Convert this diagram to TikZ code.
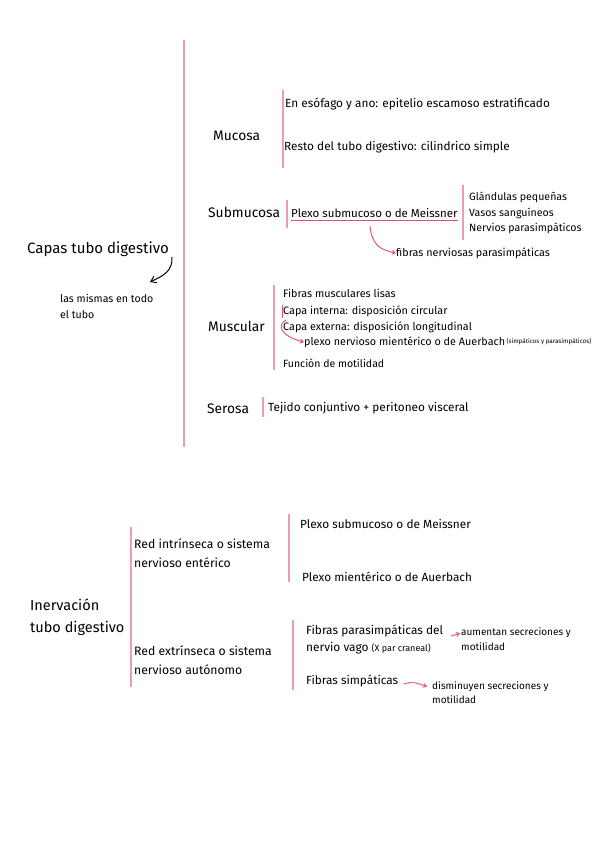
\documentclass[tikz,border=0pt]{standalone}
\usepackage{fontspec}
\setmainfont{Fira Sans}
\usetikzlibrary{arrows.meta}
\definecolor{pinkline}{RGB}{232,160,174}
\definecolor{pinkarrow}{RGB}{226,78,108}
\begin{document}
\begin{tikzpicture}[x=1pt,y=-1pt,
  big/.style={font=\fontsize{15}{17}\selectfont, anchor=west, inner sep=0pt},
  mid/.style={font=\fontsize{13.8}{16}\selectfont, anchor=west, inner sep=0pt},
  sml/.style={font=\fontsize{10.8}{13}\selectfont, anchor=west, inner sep=0pt},
  smlb/.style={font=\fontsize{11.8}{14}\selectfont, anchor=west, inner sep=0pt},
  tny/.style={font=\fontsize{10.6}{12}\selectfont, anchor=west, inner sep=0pt},
  hand/.style={font=\fontsize{6.3}{7}\selectfont, anchor=west, inner sep=0pt},
  bar/.style={draw=pinkline, line width=1.6pt},
  parrow/.style={draw=pinkarrow, line width=0.9pt, -{Straight Barb[length=3pt,width=4pt]}},
  barrow/.style={draw=black, line width=1pt, -{Straight Barb[length=5pt,width=7pt]}}]
\useasboundingbox[fill=white] (0,0) rectangle (599,848);

% ---------- Capas tubo digestivo ----------
\coordinate (mainT) at (184,40);
\coordinate (mainB) at (184,447);
\draw[bar] (mainT) -- (mainB);

\node[big] (capas) at (27,249) {Capas tubo digestivo};
\node[tny] (mismas1) at (60,298) {las mismas en todo};
\node[tny] (mismas2) at (60,315) {el tubo};
\coordinate (ca1) at (172,257);
\coordinate (ca2) at (150,282);
\draw[barrow] (ca1) .. controls (173,271) and (163,276) .. (ca2);

% Mucosa
\node[mid] (mucosa) at (213,136) {Mucosa};
\coordinate (mucT) at (283,90);
\coordinate (mucB) at (283,168);
\draw[bar] (mucT) -- (mucB);
\node[smlb] (muc1) at (285,104) {En esófago y ano: epitelio escamoso estratificado};
\node[smlb] (muc2) at (284,147) {Resto del tubo digestivo: cilindrico simple};

% Submucosa
\node[mid] (submucosa) at (208,212) {Submucosa};
\coordinate (subT) at (287,200);
\coordinate (subB) at (287,228);
\draw[bar] (subT) -- (subB);
\node[sml, font=\fontsize{11.5}{14}\selectfont] (meissner) at (291,213) {Plexo submucoso o de Meissner};
\draw[draw=pinkarrow, line width=0.9pt] ([yshift=-3pt]meissner.south west) -- ([yshift=-3pt]meissner.south east);
\coordinate (sub2T) at (463,185);
\coordinate (sub2B) at (463,240);
\draw[bar] (sub2T) -- (sub2B);
\node[sml, font=\fontsize{10.6}{13}\selectfont] (gland) at (469,197) {Glándulas pequeñas};
\node[sml, font=\fontsize{10.6}{13}\selectfont] (vasos) at (469,213) {Vasos sanguíneos};
\node[sml, font=\fontsize{10.6}{13}\selectfont] (nervios) at (469,228) {Nervios parasimpáticos};
\node[sml] (fibnerv) at (396,253) {fibras nerviosas parasimpáticas};
\coordinate (ma1) at (370,226);
\draw[parrow] (ma1) .. controls (372,245) and (380,250) .. (fibnerv.west);

% Muscular
\node[mid] (muscular) at (208,326) {Muscular};
\coordinate (musT) at (274,285);
\coordinate (musB) at (274,370);
\draw[bar] (musT) -- (musB);
\node[sml] (fibmus) at (283,293) {Fibras musculares lisas};
\node[sml] (capint) at (283,311) {Capa interna: disposición circular};
\node[sml] (capext) at (283,327) {Capa externa: disposición longitudinal};
\node[sml] (auer) at (304,342) {plexo nervioso mientérico o de Auerbach};
\node[hand, anchor=west] (simpa) at ([xshift=1pt]auer.east) {(simpáticos y parasimpáticos)};
\node[sml, font=\fontsize{10.5}{13}\selectfont] (funcion) at (283,363) {Función de motilidad};
\coordinate (ciT) at (282,305);
\coordinate (ciB) at (282,318);
\draw[draw=pinkarrow, line width=0.8pt] (ciT) -- (ciB);
\coordinate (ce1) at (286,320);
\draw[parrow] (ce1) .. controls (277,325) and (280,336) .. (auer.west);

% Serosa
\node[mid] (serosa) at (207,409) {Serosa};
\coordinate (serT) at (263,397);
\coordinate (serB) at (263,417);
\draw[bar] (serT) -- (serB);
\node[smlb] (tejido) at (268,408) {Tejido conjuntivo + peritoneo visceral};

% ---------- Inervación ----------
\node[big, align=left, font=\fontsize{14.5}{22}\selectfont] (inerv) at (30,617) {Inervación\\tubo digestivo};
\coordinate (inT) at (131,527);
\coordinate (inB) at (131,687);
\draw[bar] (inT) -- (inB);

\node[sml, align=left, font=\fontsize{12.2}{19}\selectfont] (intr) at (134,553) {Red intrínseca o sistema\\nervioso entérico};
\coordinate (inrT) at (289,514);
\coordinate (inrB) at (289,582);
\draw[bar] (inrT) -- (inrB);
\node[smlb] (pmeiss) at (300,524) {Plexo submucoso o de Meissner};
\node[smlb] (pauer) at (302,577) {Plexo mientérico o de Auerbach};

\node[sml, align=left, font=\fontsize{12.2}{19}\selectfont] (extr) at (134,660) {Red extrínseca o sistema\\nervioso autónomo};
\coordinate (exT) at (293,620);
\coordinate (exB) at (293,690);
\draw[bar] (exT) -- (exB);
\node[sml, align=left, font=\fontsize{11.9}{17}\selectfont] (fpara) at (306,639) {Fibras parasimpáticas del\\nervio vago {\fontsize{9}{10}\selectfont(X par craneal)}};
\node[tny, align=left, font=\fontsize{10}{15}\selectfont] (aument) at (461,639) {aumentan secreciones y\\motilidad};
\coordinate (pa1) at (451,636);
\draw[parrow] (pa1) -- ([xshift=-1pt,yshift=-6pt]aument.north west);
\node[smlb] (fsimp) at (306,681) {Fibras simpáticas};
\node[tny, align=left, font=\fontsize{10}{14}\selectfont] (dismin) at (432,693) {disminuyen secreciones y\\motilidad};
\coordinate (sa1) at (404,684);
\draw[parrow] (sa1) .. controls (412,681) and (418,683) .. ([xshift=-5pt,yshift=-5pt]dismin.north west);
\end{tikzpicture}
\end{document}
